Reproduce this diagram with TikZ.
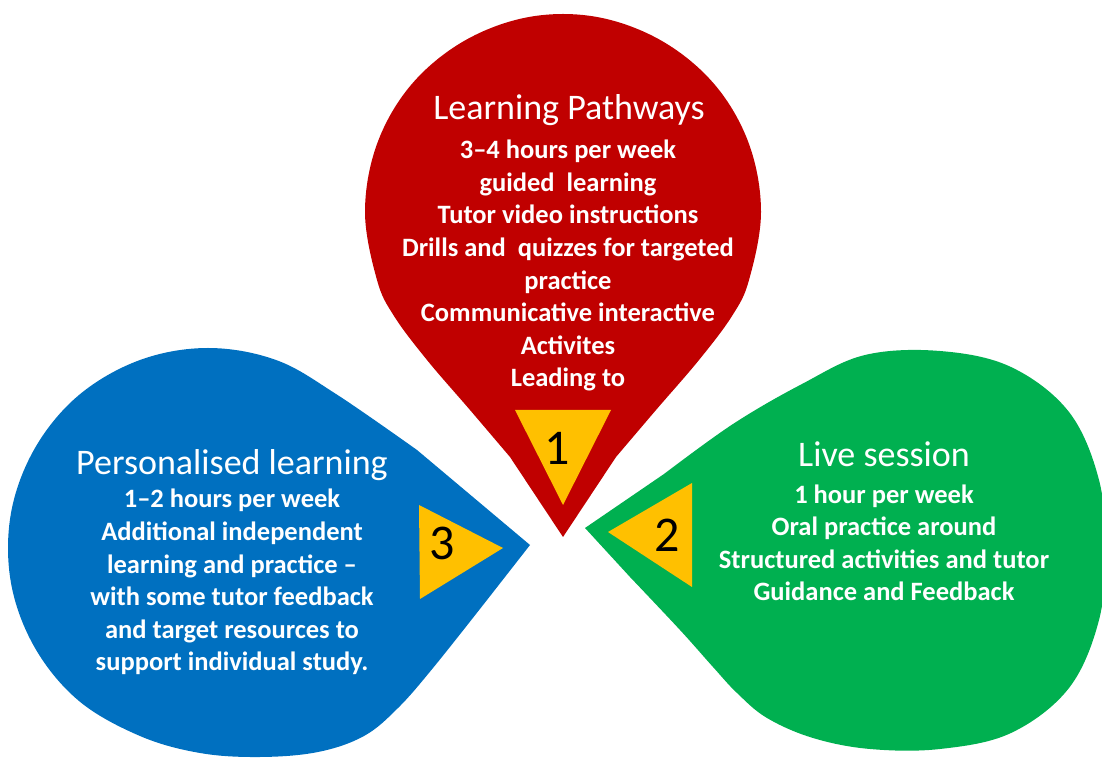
\documentclass[tikz,border=0pt]{standalone}
\usepackage{fontspec}
\setmainfont{Carlito}
\usepackage{tikz}
\usetikzlibrary{positioning}
\definecolor{dropred}{RGB}{192,0,0}
\definecolor{dropblue}{RGB}{0,112,192}
\definecolor{dropgreen}{RGB}{0,176,80}
\definecolor{markyellow}{RGB}{255,192,0}
\tikzstyle{title} = [text=white, font=\fontsize{36}{40}\selectfont, inner sep=0pt, anchor=base]
% base of a multi-line node is its last line
\tikzstyle{body} = [text=white, align=center, font=\bfseries\fontsize{26.5}{32.6}\selectfont, inner sep=0pt, anchor=base]

\begin{document}
\begin{tikzpicture}[x=1pt, y=1pt,
outline/.style={smooth, tension=0.6},
numnode/.style={font=\fontsize{50}{50}\selectfont, text=black, inner sep=0pt}
]
\useasboundingbox (0,0) rectangle (1102,760);

% drops
\coordinate (Rtip) at (563,223);
\fill[dropred] (Rtip) -- plot[outline] coordinates {(510,303) (470,350) (427,400) (394,444)
  (377,480) (365,548) (377,616) (411,675) (464,719) (529,743) (597,743) (662,719)
  (715,675) (749,616) (761,548) (749,480) (732,444) (699,400) (656,350) (616,303)} -- cycle;

\coordinate (Btip) at (530,215);
\fill[dropblue] (Btip) -- plot[outline] coordinates {(417,310) (336,366) (276,400) (208,412)
  (140,400) (79,365) (35,312) (11,247) (11,177) (35,112) (79,59) (140,24) (200,7)
  (260,3) (318,8) (364,24) (398,52) (433,92) (487,160)} -- cycle;

\coordinate (Gtip) at (585,232);
\fill[dropgreen] (Gtip) -- plot[outline] coordinates {(664,286) (733,336) (802,376) (865,405)
  (940,409) (1011,393) (1069,348) (1099,280) (1105,210) (1099,140) (1069,72)
  (1011,27) (940,11) (870,11) (813,22) (767,42) (737,67) (713,93) (680,130) (630,183)} -- cycle;

% markers
\fill[markyellow] (515,350) -- (611,350) -- (563,255) -- cycle;
\fill[markyellow] (608,228) -- (692,277) -- (692,173) -- cycle;
\fill[markyellow] (419,255) -- (420,161) -- (503,212) -- cycle;
\node[numnode] (n1) at (557,312) {1};
\node[numnode] (n2) at (667,225) {2};
\node[numnode] (n3) at (442,217) {3};

% texts
\node[title] (Rt) at (569,640) {Learning Pathways};
\node[body] (Rb) at (568,373) {3--4 hours per week\\guided\ \ learning\\Tutor video instructions\\Drills and\ \ quizzes for targeted\\practice\\Communicative interactive\\Activites\\Leading to};

\node[title] (Bt) at (232,285) {Personalised learning};
\node[body] (Bb) at (232,89) {1--2 hours per week\\Additional independent\\learning and practice --\\with some tutor feedback\\and target resources to\\support individual study.};

\node[title] (Gt) at (884,293) {Live session};
\node[body] (Gb) at (884,159) {1 hour per week\\Oral practice around\\Structured activities and tutor\\Guidance and Feedback};
\end{tikzpicture}
\end{document}
